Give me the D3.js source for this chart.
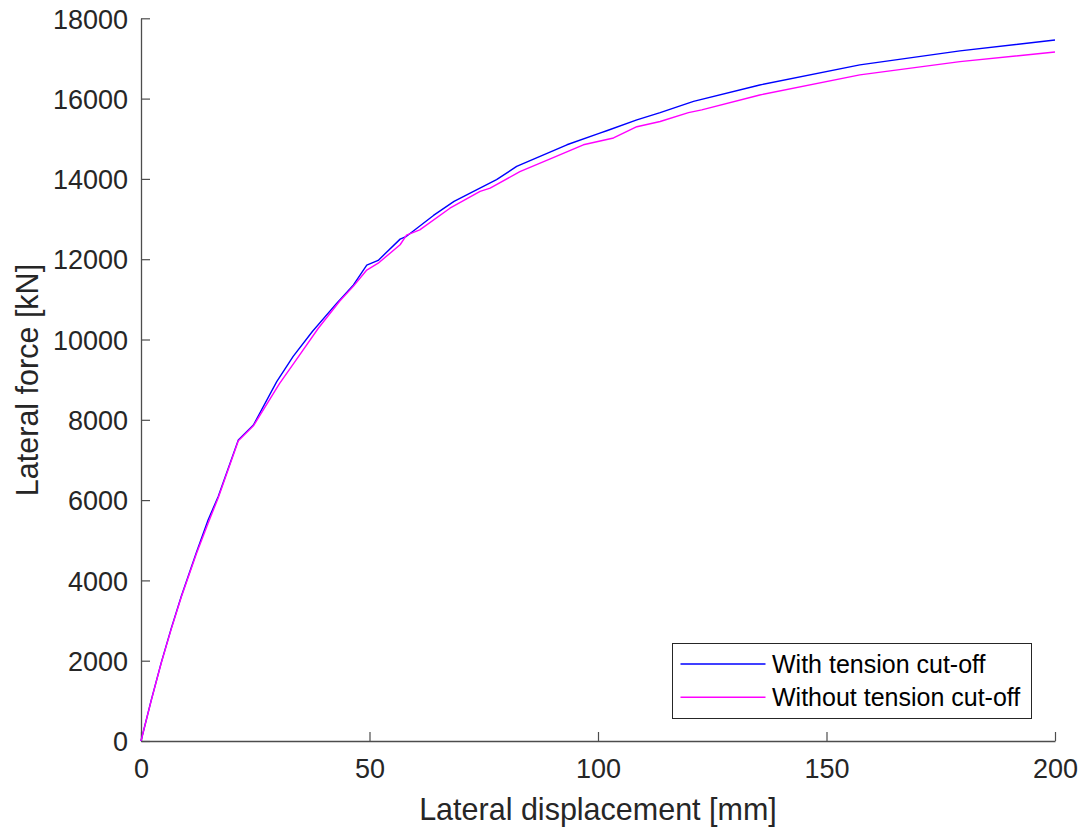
<!DOCTYPE html>
<html><head><meta charset="utf-8">
<script src="https://cdn.jsdelivr.net/npm/d3@7"></script>
<style>
html,body{margin:0;padding:0;background:#fff;}
text{font-family:"Liberation Sans",Arial,sans-serif;fill:#262626;}
</style></head>
<body><svg id="c" width="1081" height="830"></svg>
<script>
const withDisp  = [0,2.2,4.4,6.6,8.8,12.1,14.7,16.9,21.3,24.6,29.7,33.3,37.5,42.8,46.5,49.4,51.9,56.7,58.1,64.0,68.5,77.8,82.2,93.2,100.4,101.9,108.5,113.6,120.9,135.4,157.3,179.2,200];
const withForce = [0,1000,1940,2800,3600,4690,5510,6090,7500,7870,8950,9580,10200,10900,11360,11850,11970,12500,12570,13090,13440,13980,14310,14850,15140,15200,15470,15650,15930,16340,16840,17190,17460];
const withoutDisp  = [0,2.2,4.4,6.6,8.8,12.1,14.7,16.9,21.3,24.6,30.3,34.0,38.8,43.5,46.5,49.4,51.9,56.7,58.1,61.0,67.6,74.2,76.4,82.9,90.2,96.8,103.4,108.5,113.6,119.8,122.7,135.4,157.3,179.2,200];
const withoutForce = [0,990,1930,2780,3580,4660,5430,6060,7480,7850,8900,9500,10280,10960,11330,11730,11900,12360,12600,12730,13270,13690,13770,14180,14530,14850,15020,15300,15430,15650,15720,16090,16590,16920,17160];
const xTicks = [0,50,100,150,200];
const yTicks = [0,2000,4000,6000,8000,10000,12000,14000,16000,18000];
const seriesNames = ["With tension cut-off","Without tension cut-off"];
const seriesColors = ["#0000ff","#ff00ff"];

const svg = d3.select("#c");
const x = d3.scaleLinear().domain([0,200]).range([141,1055]);
const y = d3.scaleLinear().domain([0,18000]).range([741,18.3]);
const axisColor = "#4d4d4d";

const gx = svg.append("g").attr("transform","translate(0,741)")
  .call(d3.axisBottom(x).tickValues(xTicks).tickSizeInner(-9).tickSizeOuter(0).tickPadding(18).tickFormat(d3.format("d")));
const gy = svg.append("g").attr("transform","translate(141,0)")
  .call(d3.axisLeft(y).tickValues(yTicks).tickSizeInner(-9).tickSizeOuter(0).tickPadding(13).tickFormat(d3.format("d")));
[gx,gy].forEach(g=>{
  g.select(".domain").attr("stroke",axisColor).attr("stroke-width",1.3);
  g.selectAll(".tick line").attr("stroke",axisColor).attr("stroke-width",1.2);
  g.selectAll(".tick text").attr("fill","#262626").style("font-size","27px").style("font-family","'Liberation Sans',Arial,sans-serif");
});
gy.selectAll(".tick text").attr("dy","0.36em");

const line = d3.line().x(d=>x(d[0])).y(d=>y(d[1]));
const s1 = withDisp.map((d,i)=>[d,withForce[i]]);
const s2 = withoutDisp.map((d,i)=>[d,withoutForce[i]]);
[s1,s2].forEach((s,i)=>{
  svg.append("path").datum(s).attr("d",line).attr("fill","none")
    .attr("stroke",seriesColors[i]).attr("stroke-width",1.4).attr("stroke-linejoin","round");
});

svg.append("text").attr("x",598).attr("y",820).attr("text-anchor","middle")
  .style("font-size","30.5px").text("Lateral displacement [mm]");
svg.append("text").attr("transform","translate(38,380) rotate(-90)").attr("text-anchor","middle")
  .style("font-size","30.5px").text("Lateral force [kN]");

const lg = svg.append("g");
lg.append("rect").attr("x",672.5).attr("y",643.5).attr("width",359).attr("height",75)
  .attr("fill","#fff").attr("stroke","#262626").attr("stroke-width",1);
seriesNames.forEach((n,i)=>{
  const yy = 664 + i*33.3;
  lg.append("line").attr("x1",680.5).attr("x2",765.5).attr("y1",yy).attr("y2",yy)
    .attr("stroke",seriesColors[i]).attr("stroke-width",1.4);
  lg.append("text").attr("x",772).attr("y",yy).attr("dy","0.36em")
    .style("font-size","25px").style("fill","#000").text(n);
});
</script></body></html>
